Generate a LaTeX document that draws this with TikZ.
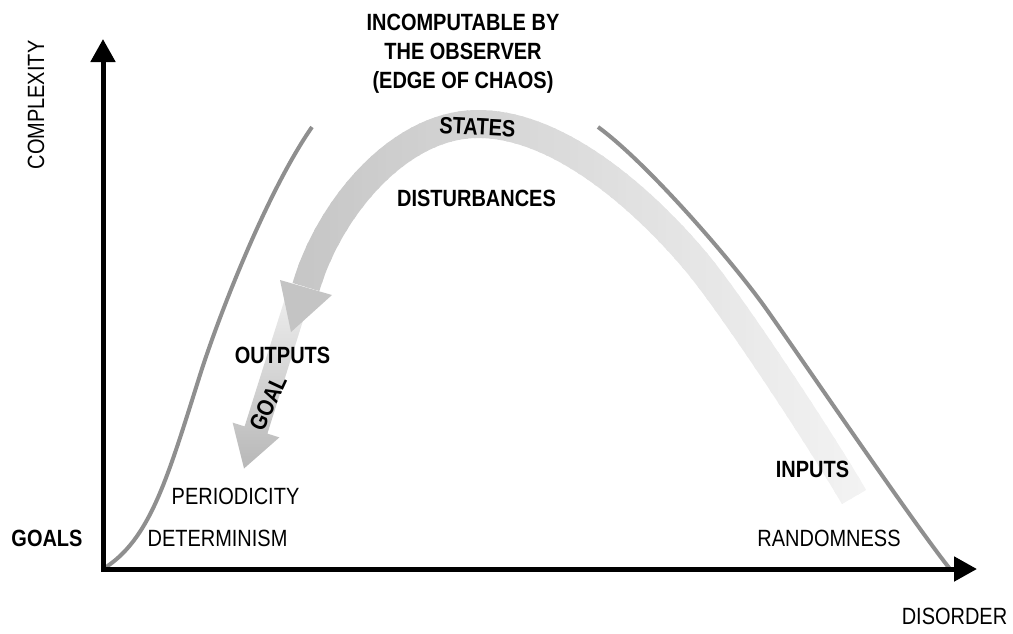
\documentclass[tikz,border=0pt]{standalone}
\usepackage{fontspec}
\setmainfont{Liberation Sans}[FakeStretch=0.85]
\usetikzlibrary{arrows.meta}
\newcommand\bandline[1]{\draw[#1] (854,497) .. controls (824,445) and (735,309) .. (697,263) .. controls (658.6,216.8) and (568,124) .. (478,124) .. controls (398,124) and (328.4,210.2) .. (306,287);}
\begin{document}
\begin{tikzpicture}[x=1pt,y=-1pt,
  lbl/.style={font=\fontsize{23.5}{28}\selectfont, inner sep=0pt, anchor=base},
  blbl/.style={lbl, font=\fontsize{23.5}{28}\selectfont\bfseries},
  bellcurve/.style={draw=black!44, line width=4pt},
  axisline/.style={line width=5pt, line join=miter, {Triangle[width=24pt,length=23pt]}-{Triangle[width=24pt,length=23pt]}},
  headfill/.style={fill=black!23}
]
\useasboundingbox (0,0) rectangle (1013,633);

% bell curve
\coordinate (O) at (103,569);
\coordinate (bl) at (312,127);
\coordinate (br) at (598,127);
\coordinate (be) at (950,569);
\draw[bellcurve] (O) .. controls (150,540) and (167,479.5) .. (200,375) .. controls (218,318) and (266.4,192.6) .. (bl);
\draw[bellcurve] (br) .. controls (646.6,162.4) and (732.2,260.8) .. (767,310) .. controls (801.8,359.2) and (912.8,522.2) .. (be);

% axes
\coordinate (Ytop) at (103,39);
\coordinate (Xend) at (977,569);
\draw[axisline] (Ytop) |- (Xend);

% goal arrow
\coordinate (g1) at (285.6,296.4);
\coordinate (g2) at (308.4,303.6);
\coordinate (g3) at (267.4,433.6);
\coordinate (g4) at (279.4,437.4);
\coordinate (gtip) at (244,468.5);
\coordinate (g5) at (232.6,422.6);
\coordinate (g6) at (244.6,426.4);
\shade[top color=black!7, bottom color=black!28] (g1) -- (g2) -- (g3) -- (g4) -- (gtip) -- (g5) -- (g6) -- cycle;

% main curved arrow (states): gradient by vertical strips
\foreach \xa in {290,298,...,870}{
  \pgfmathsetmacro\bandshade{max(4,min(23,5+17*(854-\xa-4)/548))}
  \begin{scope}
    \clip (\xa,0) rectangle (\xa+10,633);
    \bandline{line width=28pt, draw=black!\bandshade}
  \end{scope}
}
\coordinate (h1) at (280,280);
\coordinate (h2) at (332,295);
\coordinate (htip) at (291,332);
\fill[headfill] (h1) -- (h2) -- (htip) -- cycle;

% labels
\node[blbl] (t1) at (463,30) {INCOMPUTABLE BY};
\node[blbl] (t2) at (463,59) {THE OBSERVER};
\node[blbl] (t3) at (463,88) {(EDGE OF CHAOS)};
\node[blbl, rotate=-3] (states) at (477,135) {STATES};
\node[blbl] (dist) at (476.5,206) {DISTURBANCES};
\node[blbl] (outputs) at (282.5,363) {OUTPUTS};
\node[blbl, anchor=center, rotate=65] (goal) at (268,403) {GOAL};
\node[lbl] (period) at (235.5,504) {PERIODICITY};
\node[lbl] (determ) at (217.5,546) {DETERMINISM};
\node[blbl] (goals) at (47,546) {GOALS};
\node[blbl] (inputs) at (812.5,477) {INPUTS};
\node[lbl] (random) at (829,546) {RANDOMNESS};
\node[lbl, rotate=90] (complex) at (44,105) {COMPLEXITY};
\node[lbl] (disorder) at (954.5,624) {DISORDER};
\end{tikzpicture}
\end{document}
